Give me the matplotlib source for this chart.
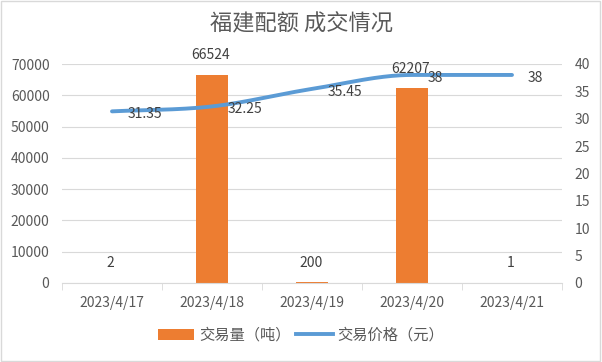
import matplotlib
matplotlib.use("Agg")
import matplotlib.pyplot as plt
from matplotlib.patches import Rectangle
import numpy as np

plt.rcParams['font.family'] = ['Noto Sans CJK SC', 'DejaVu Sans']

categories = ["2023/4/17", "2023/4/18", "2023/4/19", "2023/4/20", "2023/4/21"]
volume = [2, 66524, 200, 62207, 1]
price = [31.35, 32.25, 35.45, 38, 38]
title = "福建配额 成交情况"
vol_name = "交易量（吨）"
price_name = "交易价格（元）"

orange = "#ED7D31"
blue = "#5B9BD5"
tc = "#595959"

fig = plt.figure(figsize=(6.02, 3.62), dpi=100)
fig.patches.append(Rectangle((0.002, 0.003), 0.995, 0.994, transform=fig.transFigure,
                             fill=False, edgecolor="#D9D9D9", linewidth=1))
ax = fig.add_axes([62/602, 1-283/362, 500/602, 219/362])
ax2 = ax.twinx()

x = np.arange(len(categories))
ax.bar(x, volume, width=0.32, color=orange, zorder=2, label=vol_name)
ax.set_xlim(-0.5, len(categories)-0.5)
ax.set_ylim(0, 70000)
ax.set_yticks(np.arange(0, 70001, 10000))
ax.yaxis.grid(True, color="#D9D9D9", linewidth=0.8)
ax.set_axisbelow(True)
for s in ["top", "right", "left"]:
    ax.spines[s].set_visible(False)
ax.spines["bottom"].set_color("#D9D9D9")
ax.set_xticks(x)
ax.set_xticklabels(categories)
ax.set_xticks(np.arange(-0.5, len(categories), 1), minor=True)
ax.tick_params(axis="x", which="major", length=0, pad=9, labelsize=10, labelcolor=tc)
ax.tick_params(axis="x", which="minor", length=5, color="#D9D9D9")
ax.tick_params(axis="y", length=0, labelsize=10, labelcolor=tc, pad=9)

for xi, v in zip(x, volume):
    ax.annotate(str(v), (xi, v), xytext=(-1, 9), textcoords="offset points",
                ha="center", va="bottom", fontsize=10, color="#404040")

# smooth line (monotone cubic Hermite)
xs = np.linspace(0, len(x)-1, 300)
def smooth(xp, yp, xq):
    xp = np.asarray(xp, float); yp = np.asarray(yp, float)
    n = len(xp)
    d = np.diff(yp)
    m = np.zeros(n)
    m[0] = d[0]; m[-1] = d[-1]
    for i in range(1, n-1):
        if d[i-1]*d[i] <= 0:
            m[i] = 0
        else:
            m[i] = (d[i-1]+d[i])/2
    if d[-1] == 0:
        m[-1] = 0
    out = []
    for q in xq:
        i = min(int(np.floor(q)), n-2)
        t = q - i
        h00 = 2*t**3-3*t**2+1; h10 = t**3-2*t**2+t; h01 = -2*t**3+3*t**2; h11 = t**3-t**2
        out.append(h00*yp[i]+h10*m[i]+h01*yp[i+1]+h11*m[i+1])
    return np.array(out)
ax2.plot(xs, smooth(x, price, xs), color=blue, linewidth=2.8, solid_capstyle="round", zorder=3)
ax2.plot([], [], color=blue, linewidth=2.8, label=price_name)
ax2.set_ylim(0, 40)
ax2.set_yticks(np.arange(0, 41, 5))
ax2.tick_params(axis="y", length=0, labelsize=10, labelcolor=tc, pad=9)
for s in ["top", "right", "left", "bottom"]:
    ax2.spines[s].set_visible(False)
for xi, v in zip(x, price):
    ax2.annotate(f"{v:g}", (xi, v), xytext=(11, -2), textcoords="offset points",
                 ha="left", va="center", fontsize=10, color="#404040")

fig.text(0.5, 1-24/362, title, ha="center", va="center", fontsize=16, color=tc)

h1, l1 = ax.get_legend_handles_labels()
h2, l2 = ax2.get_legend_handles_labels()
fig.legend(h1+h2, l1+l2, loc="center", bbox_to_anchor=(0.5, 1-335/362), ncol=2,
           frameon=False, fontsize=11, labelcolor=tc, handlelength=2.4,
           handletextpad=0.3, columnspacing=0.4)

fig.savefig("out.png", dpi=100)
